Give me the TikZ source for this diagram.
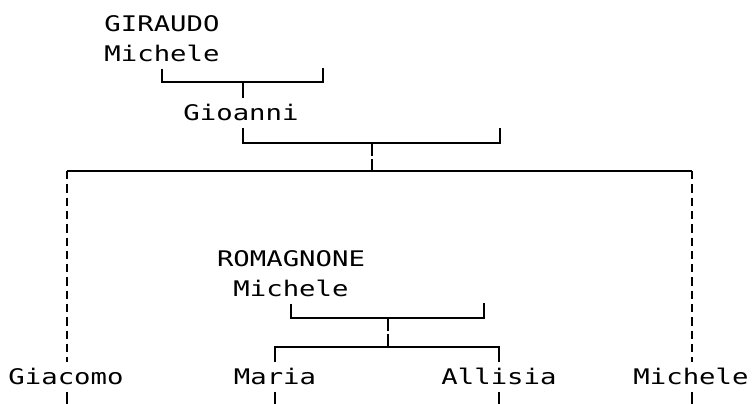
\documentclass[tikz,border=0pt]{standalone}
\usepackage{fontspec}
\setmonofont{DejaVu Sans Mono}[FakeStretch=1.27]
\usetikzlibrary{positioning}

\begin{document}
\begin{tikzpicture}[
  x=1pt, y=-1pt,
  node distance=0pt,
  person/.style={font=\ttfamily\fontsize{21.5}{24}\selectfont, inner sep=0pt, text height=15.5pt, text depth=0pt, minimum height=29.3pt},
  link/.style={line width=2pt},
  dline/.style={line width=2pt, dash pattern=on 8.3pt off 5pt},
  gline/.style={line width=2pt, dash pattern=on 12.5pt off 3.5pt}
]
\useasboundingbox (0,0) rectangle (752,404);

% GIRAUDO branch
\node[person] (gir) at (162,24) {GIRAUDO};
\node[person, below=of gir] (gmi) {Michele};
\node[person] (gio) at (241,113) {Gioanni};

% ROMAGNONE branch
\node[person] (rom) at (291,259) {ROMAGNONE};
\node[person, below=of rom] (rmi) {Michele};

% Children row
\node[person] (gia) at (66,377) {Giacomo};
\node[person] (mar) at (275,377) {Maria};
\node[person] (all) at (499,377) {Allisia};
\node[person] (mic) at (691,377) {Michele};

% Junctions and spouse ends
\coordinate (c1) at (243,82);
\coordinate (sp1) at (323,68);
\coordinate (c2) at (372,143);
\coordinate (sp2) at (500,128);
\coordinate (c3) at (372,171);
\coordinate (c3l) at (67,171);
\coordinate (c3r) at (692,171);
\coordinate (c4) at (388,318);
\coordinate (sp4) at (484,303);
\coordinate (c5) at (388,347);
\coordinate (bottom) at (0,404);

\draw[link] (gmi.south) |- (c1) -| (sp1);
\draw[link] (c1) -- (c1 |- gio.north);
\draw[link] (c1 |- gio.south) |- (c2) -| (sp2);
\draw[gline] (c2) -- (c3);
\draw[link] (c3l) -- (c3r);
\draw[dline] (c3l) -- (c3l |- gia.north);
\draw[dline] (c3r) -- (c3r |- mic.north);

\draw[link] (rmi.south) |- (c4) -| (sp4);
\draw[gline] (c4) -- (c5);
\draw[link] (mar.north) |- (c5) -| (all.north);

% ticks under the children
\foreach \n/\cx in {gia/c3l,mar/mar,all/all,mic/c3r}
  \draw[link] (\cx |- \n.south) -- (\cx |- bottom);

\end{tikzpicture}
\end{document}
